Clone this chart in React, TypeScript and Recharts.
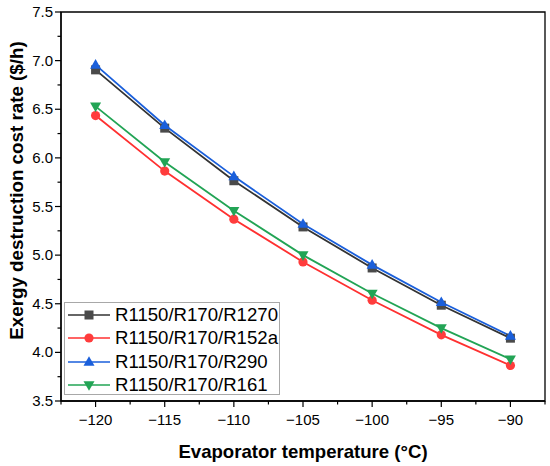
import React from "react";
import {
  LineChart,
  Line,
  XAxis,
  YAxis,
  ReferenceArea,
  Legend,
} from "recharts";

const temps = [-120, -115, -110, -105, -100, -95, -90];
const r1270 = [6.905, 6.306, 5.765, 5.29, 4.868, 4.485, 4.146];
const r152a = [6.435, 5.864, 5.37, 4.93, 4.536, 4.18, 3.865];
const r290 = [6.956, 6.336, 5.81, 5.32, 4.9, 4.516, 4.17];
const r161 = [6.53, 5.957, 5.457, 5.0, 4.605, 4.25, 3.93];

const xDomain = [-122.5, -87.5];
const yDomain = [3.5, 7.5];
const xTicks = [-122.5, -120, -117.5, -115, -112.5, -110, -107.5, -105, -102.5, -100, -97.5, -95, -92.5, -90, -87.5];
const yTicks = [3.5, 3.75, 4, 4.25, 4.5, 4.75, 5, 5.25, 5.5, 5.75, 6, 6.25, 6.5, 6.75, 7, 7.25, 7.5];

const data = temps.map((t, i) => ({
  t,
  r1270: r1270[i],
  r152a: r152a[i],
  r290: r290[i],
  r161: r161[i],
}));

const FONT = "Arial, 'Liberation Sans', sans-serif";

const series = [
  { key: "r1270", name: "R1150/R170/R1270", line: "#333333", fill: "#4a4a4a", shape: "square" },
  { key: "r152a", name: "R1150/R170/R152a", line: "#ff3030", fill: "#ff3c3c", shape: "circle" },
  { key: "r290", name: "R1150/R170/R290", line: "#1a5fdb", fill: "#1a5fdb", shape: "up" },
  { key: "r161", name: "R1150/R170/R161", line: "#22a455", fill: "#22a455", shape: "down" },
];

function Marker({ cx, cy, shape, fill }: any) {
  if (cx == null || cy == null) return null;
  if (shape === "square") return <rect x={cx - 4.5} y={cy - 4.5} width={9} height={9} fill={fill} />;
  if (shape === "circle") return <circle cx={cx} cy={cy} r={4.6} fill={fill} />;
  if (shape === "up")
    return <polygon points={`${cx},${cy - 5.8} ${cx - 5.5},${cy + 3.8} ${cx + 5.5},${cy + 3.8}`} fill={fill} />;
  return <polygon points={`${cx},${cy + 5.8} ${cx - 5.5},${cy - 3.8} ${cx + 5.5},${cy - 3.8}`} fill={fill} />;
}

function XTick({ x, y, payload }: any) {
  const v = payload.value;
  const major = Number.isInteger(v / 5);
  return (
    <g>
      <line x1={x} x2={x} y1={y} y2={y + (major ? 6 : 3.5)} stroke="#000" strokeWidth={1.2} />
      {major && (
        <text x={x} y={y + 24} textAnchor="middle" fontSize={15} fontFamily={FONT} fill="#000">
          {String(v).replace("-", "\u2212")}
        </text>
      )}
    </g>
  );
}

function YTick({ x, y, payload }: any) {
  const v = payload.value;
  const major = Number.isInteger(v * 2);
  return (
    <g>
      <line x1={x - (major ? 6 : 3.5)} x2={x} y1={y} y2={y} stroke="#000" strokeWidth={1.2} />
      {major && (
        <text x={x - 8} y={y + 5} textAnchor="end" fontSize={15} fontFamily={FONT} fill="#000">
          {v.toFixed(1)}
        </text>
      )}
    </g>
  );
}

function YLabel({ viewBox }: any) {
  const cx = 16;
  const cy = viewBox.y + viewBox.height / 2 - 16;
  return (
    <text
      x={cx}
      y={cy}
      transform={`rotate(-90, ${cx}, ${cy})`}
      textAnchor="middle"
      dominantBaseline="central"
      fontSize={18.8}
      fontWeight="bold"
      fontFamily={FONT}
      fill="#000"
    >
      Exergy destruction cost rate ($/h)
    </text>
  );
}

function LegendBox() {
  return (
    <div
      style={{
        width: 216,
        height: 93,
        border: "1px solid #a8a8a8",
        background: "#fff",
        boxSizing: "border-box",
        fontFamily: FONT,
      }}
    >
      {series.map((s) => (
        <div key={s.key} style={{ display: "flex", alignItems: "center", height: 23.5 }}>
          <svg width={48} height={14} style={{ marginLeft: 2 }}>
            <line x1={1} x2={43} y1={7} y2={7} stroke={s.line} strokeWidth={1.6} />
            <Marker cx={22} cy={7} shape={s.shape} fill={s.fill} />
          </svg>
          <span style={{ fontSize: 18.6, color: "#000" }}>{s.name}</span>
        </div>
      ))}
    </div>
  );
}

export default function App() {
  return (
    <div style={{ position: "fixed", left: 0, top: 0, width: 550, height: 466, background: "#fff" }}>
      <LineChart width={550} height={466} data={data} margin={{ top: 12, right: 5, left: 0, bottom: 0 }}>
        <XAxis
          dataKey="t"
          type="number"
          domain={xDomain}
          ticks={xTicks}
          interval={0}
          tickSize={0}
          tickMargin={0}
          tick={<XTick />}
          height={65}
          axisLine={{ stroke: "#000", strokeWidth: 1.3 }}
          label={{
            value: "Evaporator temperature (°C)",
            position: "insideBottom",
            offset: 8,
            style: { fontSize: 18.6, fontWeight: "bold", fontFamily: FONT, fill: "#000" },
          }}
        />
        <YAxis
          type="number"
          domain={yDomain}
          ticks={yTicks}
          interval={0}
          tickSize={0}
          tickMargin={0}
          tick={<YTick />}
          width={61}
          axisLine={{ stroke: "#000", strokeWidth: 1.3 }}
          label={{ content: (p: any) => <YLabel {...p} /> }}
        />
        <ReferenceArea
          x1={xDomain[0]}
          x2={xDomain[1]}
          y1={yDomain[0]}
          y2={yDomain[1]}
          fill="none"
          stroke="#000"
          strokeWidth={1.3}
          fillOpacity={0}
        />
        {series.map((s) => (
          <Line
            key={s.key}
            dataKey={s.key}
            name={s.name}
            stroke={s.line}
            strokeWidth={1.8}
            isAnimationActive={false}
            dot={(p: any) => <Marker key={`${s.key}-${p.index}`} cx={p.cx} cy={p.cy} shape={s.shape} fill={s.fill} />}
            activeDot={false}
          />
        ))}
        <Legend
          layout="horizontal"
          align="center"
          verticalAlign="middle"
          content={() => <LegendBox />}
          wrapperStyle={{ position: "absolute", left: 64, top: 302, width: 216, height: 93 }}
        />
      </LineChart>
    </div>
  );
}
